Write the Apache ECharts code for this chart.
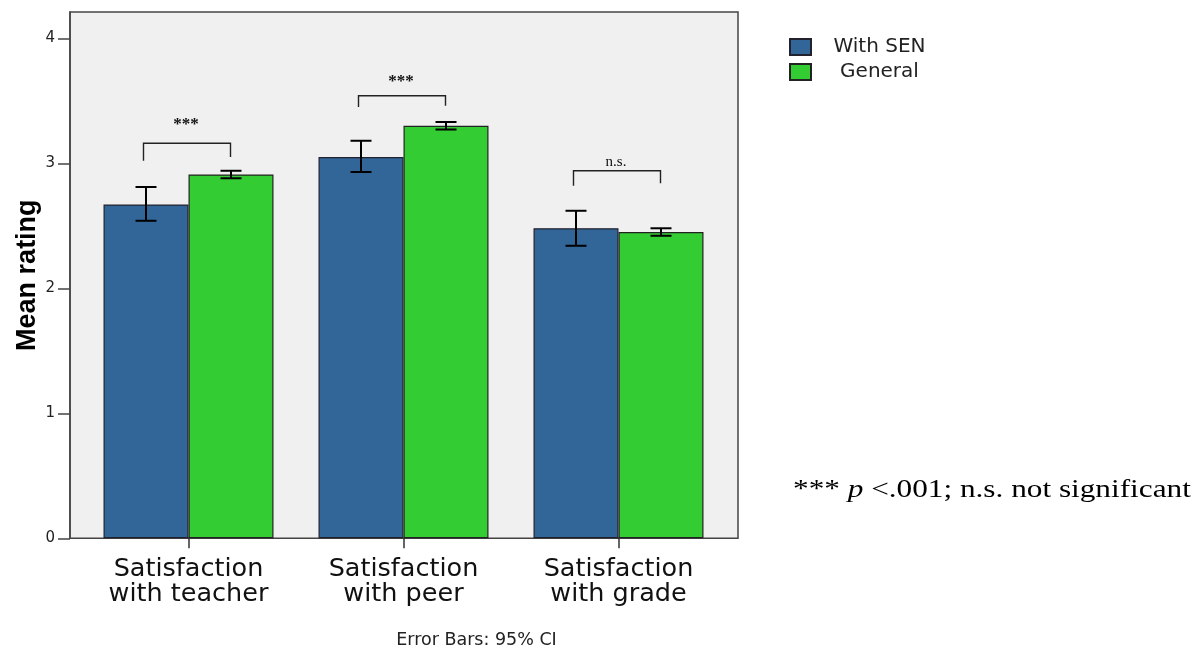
<!DOCTYPE html>
<html><head><meta charset="utf-8">
<script src="https://cdn.jsdelivr.net/npm/echarts@6/dist/echarts.min.js"></script>
<style>html,body{margin:0;padding:0;background:#fff}#c{width:1203px;height:649px}</style>
</head><body><div id="c"></div>
<script>
// ---- data ----
const categories = ['Satisfaction\nwith teacher', 'Satisfaction\nwith peer', 'Satisfaction\nwith grade'];
const seriesNames = ['With SEN', 'General'];
const senMeans = [2.67, 3.05, 2.48];
const senLow   = [2.54, 2.93, 2.34];
const senHigh  = [2.81, 3.18, 2.62];
const genMeans = [2.91, 3.30, 2.45];
const genLow   = [2.88, 3.27, 2.42];
const genHigh  = [2.94, 3.33, 2.48];
const bracketTop      = [3.16, 3.54, 2.94];
const bracketLeftEnd  = [3.02, 3.45, 2.82];
const bracketRightEnd = [3.05, 3.46, 2.84];
const sigLabels = ['***', '***', 'n.s.'];
const sigLabelY = [3.31, 3.65, 3.01];
const yTicks = [0, 1, 2, 3, 4];
const yMax = 4.21;
const footnote = 'Error Bars: 95% CI';

// ---- chart ----
const chart = echarts.init(document.getElementById('c'));
const BAR_W = 85;

function errRender(sign) {
  return function (params, api) {
    const i = api.value(0);
    const top = api.coord([i, api.value(2)]);
    const bot = api.coord([i, api.value(1)]);
    const x = top[0] + sign * BAR_W / 2;
    const st = { stroke: '#000', lineWidth: 2 };
    return { type: 'group', children: [
      { type: 'line', shape: { x1: x, y1: top[1], x2: x, y2: bot[1] }, style: st },
      { type: 'line', shape: { x1: x - 10.5, y1: top[1], x2: x + 10.5, y2: top[1] }, style: st },
      { type: 'line', shape: { x1: x - 10.5, y1: bot[1], x2: x + 10.5, y2: bot[1] }, style: st }
    ]};
  };
}

function bracketRender(params, api) {
  const i = api.value(0);
  const c = api.coord([i, api.value(1)]);
  const l = api.coord([i, api.value(2)]);
  const r = api.coord([i, api.value(3)]);
  const t = api.coord([i, api.value(4)]);
  const xl = c[0] - 45, xr = c[0] + 42;
  const lab = sigLabels[params.dataIndex];
  const isStar = lab.indexOf('*') >= 0;
  return { type: 'group', children: [
    { type: 'polyline', shape: { points: [[xl, l[1]], [xl, c[1]], [xr, c[1]], [xr, r[1]]] },
      style: { stroke: '#222', lineWidth: 1.4, fill: null } },
    { type: 'text', x: (xl + xr) / 2 - 1, y: t[1],
      style: { text: lab, fill: '#111',
        font: isStar ? 'bold 17px "Liberation Serif"' : '15px "Liberation Serif"',
        textAlign: 'center', textVerticalAlign: 'middle', align: 'center', verticalAlign: 'middle' } }
  ]};
}

const option = {
  animation: false,
  backgroundColor: '#fff',
  grid: [
    { left: 70, top: 12, width: 668, height: 526.3, show: true, backgroundColor: '#f0f0f0',
      borderColor: '#444', borderWidth: 1.5 },
    { left: 81, top: 12, width: 645, height: 526.3 }
  ],
  xAxis: [
    { gridIndex: 0, type: 'value', show: false, min: 0, max: 1 },
    { gridIndex: 1, type: 'category', data: categories, boundaryGap: true,
      axisLine: { show: false },
      axisTick: { show: true, alignWithLabel: true, length: 10, lineStyle: { color: '#333', width: 1.5 } },
      axisLabel: { fontFamily: 'DejaVu Sans', fontSize: 25.5, color: '#111', lineHeight: 25, margin: 19 } }
  ],
  yAxis: [
    { gridIndex: 0, type: 'value', min: 0, max: yMax, interval: 1,
      name: 'Mean rating', nameLocation: 'middle', nameRotate: 90, nameGap: 29, nameMoveOverlap: false,
      nameTextStyle: { fontFamily: 'Liberation Sans', fontWeight: 'bold', fontSize: 27, color: '#000' },
      axisLine: { show: true, lineStyle: { color: '#444', width: 1.5 } },
      axisTick: { show: true, length: 12, customValues: yTicks, lineStyle: { color: '#444', width: 1.5 } },
      axisLabel: { customValues: yTicks, fontFamily: 'DejaVu Sans', fontSize: 15, color: '#222', margin: 15 },
      splitLine: { show: false } },
    { gridIndex: 1, type: 'value', min: 0, max: yMax, show: false, splitLine: { show: false } }
  ],
  legend: {
    orient: 'vertical', left: 789, top: 37, padding: 0, itemWidth: 21, itemHeight: 16, itemGap: 5,
    icon: 'rect',
    data: seriesNames,
    formatter: '{n|{name}}',
    textStyle: { fontFamily: 'DejaVu Sans', fontSize: 20, color: '#222', lineHeight: 16,
      rich: { n: { fontFamily: 'DejaVu Sans', fontSize: 20, color: '#222', width: 127, lineHeight: 16, align: 'center' } } }
  },
  series: [
    { name: seriesNames[0], type: 'bar', xAxisIndex: 1, yAxisIndex: 1, data: senMeans,
      barWidth: BAR_W, barGap: '0%',
      itemStyle: { color: '#326699', borderColor: '#22222e', borderWidth: 1.2 } },
    { name: seriesNames[1], type: 'bar', xAxisIndex: 1, yAxisIndex: 1, data: genMeans,
      barWidth: BAR_W, barGap: '0%',
      itemStyle: { color: '#33cc33', borderColor: '#222', borderWidth: 1.2 } },
    { type: 'custom', xAxisIndex: 1, yAxisIndex: 1, z: 5, renderItem: errRender(-1),
      data: senMeans.map((_, i) => [i, senLow[i], senHigh[i]]) },
    { type: 'custom', xAxisIndex: 1, yAxisIndex: 1, z: 5, renderItem: errRender(1),
      data: genMeans.map((_, i) => [i, genLow[i], genHigh[i]]) },
    { type: 'custom', xAxisIndex: 1, yAxisIndex: 1, z: 5, renderItem: bracketRender,
      data: categories.map((_, i) => [i, bracketTop[i], bracketLeftEnd[i], bracketRightEnd[i], sigLabelY[i]]) }
  ],
  graphic: [
    { type: 'text', x: 476.5, y: 640,
      style: { text: footnote, font: '17.5px "DejaVu Sans"', fill: '#222', align: 'center', verticalAlign: 'middle' } },
    { type: 'text', x: 793, y: 490, scaleX: 1.25,
      style: { text: '{a|*** }{i|p}{a| <.001; n.s. not significant}', verticalAlign: 'middle',
        font: '25px "Liberation Serif"', fill: '#000',
        rich: { a: { fontFamily: 'Liberation Serif', fontSize: 25, color: '#000' },
                i: { fontFamily: 'Liberation Serif', fontSize: 25, fontStyle: 'italic', color: '#000' } } } }
  ]
};
chart.setOption(option);
</script>
</body></html>
